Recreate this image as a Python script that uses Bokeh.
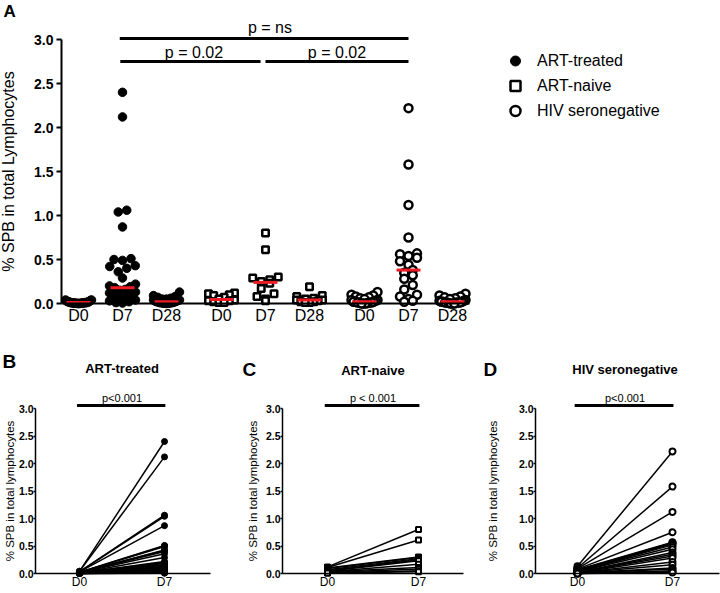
import numpy as np
from bokeh.plotting import figure
from bokeh.models import (Legend, LegendItem, FixedTicker, Range1d,
                          NumeralTickFormatter, ColumnDataSource)
from bokeh.layouts import column, row
from bokeh.embed import file_html
from bokeh.resources import INLINE
from bokeh.core.properties import value

# ------------------------------------------------------------------ data
groups = ["ART-treated", "ART-naive", "HIV seronegative"]
days = ["D0", "D7", "D28"]
paired_days = ["D0", "D7"]
panel_letters = ["A", "B", "C", "D"]
y_ticks = [0.0, 0.5, 1.0, 1.5, 2.0, 2.5, 3.0]
y_label_a = "% SPB in total Lymphocytes"
y_label_paired = "% SPB in total lymphocytes"
p_values_a = ["p = ns", "p = 0.02", "p = 0.02"]
p_values_paired = ["p<0.001", "p < 0.001", "p<0.001"]

treated_d0 = [0.04, 0.04, 0.035, 0.03, 0.03, 0.025, 0.02, 0.02, 0.02, 0.02, 0.015,
              0.015, 0.01, 0.01, 0.01, 0.01, 0.01, 0.01, 0.01, 0.008, 0.006, 0.005,
              0.005, 0.004, 0.003, 0.003, 0.002, 0.002, 0.001, 0.001, 0.0, 0.0, 0.0]
treated_d7 = [2.40, 2.12, 1.06, 1.04, 0.87, 0.51, 0.50, 0.49, 0.43, 0.42, 0.40,
              0.36, 0.29, 0.22, 0.20, 0.19, 0.18, 0.16, 0.15, 0.13, 0.12, 0.11,
              0.10, 0.09, 0.08, 0.07, 0.06, 0.05, 0.04, 0.03, 0.02, 0.01, 0.005]
treated_d28 = [0.13, 0.09, 0.08, 0.07, 0.06, 0.05, 0.05, 0.04, 0.04, 0.04, 0.03,
               0.03, 0.03, 0.03, 0.02, 0.02, 0.02, 0.02, 0.02, 0.015, 0.01, 0.01,
               0.01, 0.01, 0.01, 0.008, 0.006, 0.005, 0.004, 0.003, 0.002, 0.001, 0.0]

naive_d0 = [0.12, 0.11, 0.10, 0.09, 0.07, 0.05, 0.04, 0.03, 0.03, 0.02, 0.01, 0.01]
naive_d7 = [0.80, 0.61, 0.30, 0.29, 0.27, 0.25, 0.23, 0.17, 0.11, 0.08, 0.05, 0.03]
naive_d28 = [0.19, 0.09, 0.08, 0.06, 0.05, 0.04, 0.04, 0.03, 0.02, 0.02, 0.01, 0.01]

hivneg_d0 = [0.13, 0.10, 0.09, 0.08, 0.07, 0.06, 0.05, 0.04, 0.04, 0.03, 0.02,
             0.02, 0.02, 0.01, 0.01, 0.01, 0.01, 0.005, 0.0, 0.0, 0.0]
hivneg_d7 = [2.22, 1.58, 1.12, 0.75, 0.57, 0.56, 0.54, 0.52, 0.48, 0.44, 0.38,
             0.35, 0.32, 0.28, 0.21, 0.16, 0.10, 0.08, 0.05, 0.03, 0.02]
hivneg_d28 = [0.11, 0.09, 0.08, 0.07, 0.06, 0.05, 0.04, 0.03, 0.03, 0.02, 0.02,
              0.02, 0.01, 0.01, 0.01, 0.01, 0.01, 0.005, 0.0, 0.0, 0.0]

group_data = [[treated_d0, treated_d7, treated_d28],
              [naive_d0, naive_d7, naive_d28],
              [hivneg_d0, hivneg_d7, hivneg_d28]]

# ------------------------------------------------------------------ styles
SANS = "Liberation Sans"
RED = "#ec1c24"
BLACK = "#000000"

styles_a = [dict(marker="circle", fill_color=BLACK, line_color=BLACK, line_width=1.0, size=8.5),
            dict(marker="square", fill_color="white", line_color=BLACK, line_width=2.5, size=6.5),
            dict(marker="circle", fill_color="white", line_color=BLACK, line_width=2.5, size=8.0)]
styles_paired = [dict(marker="circle", fill_color=BLACK, line_color=BLACK, line_width=1.0, size=6),
                 dict(marker="square", fill_color="white", line_color=BLACK, line_width=2.0, size=5),
                 dict(marker="circle", fill_color="white", line_color=BLACK, line_width=2.0, size=6)]


def swarm(vals, center, ppu_x, ppu_y, d, maxw):
    """Scatter-dot-plot layout: points in the same vertical bin spread sideways."""
    vals = np.asarray(vals, dtype=float)
    order = np.argsort(vals, kind="stable")
    bins = np.round(vals * ppu_y / d).astype(int)
    xs = np.full(len(vals), float(center))
    for b in np.unique(bins):
        idx = [i for i in order if bins[i] == b]
        k = len(idx)
        if k < 2:
            continue
        step = min(d, maxw / (k - 1))
        offs = (np.arange(k) - (k - 1) / 2.0) * step
        sorted_offs = sorted(offs, key=lambda o: (abs(o), o))
        for i, o in zip(idx, sorted_offs):
            xs[i] = center + o / ppu_x
    return xs


def make_fig(w, h, x0, x1, y0, y1):
    p = figure(width=w, height=h, title=None, x_range=Range1d(x0, x1), y_range=Range1d(y0, y1),
               output_backend="svg", toolbar_location=None,
               min_border=0, min_border_left=0, min_border_right=0,
               min_border_top=0, min_border_bottom=0)
    p.xgrid.visible = False
    p.ygrid.visible = False
    p.outline_line_color = None
    p.background_fill_color = "white"
    p.border_fill_color = "white"
    return p


def style_axes(p, y_axis_x, x_bounds, lw, tick_out, tick_px, tick_standoff,
               label_px, label_standoff, x_px, x_standoff):
    xa, ya = p.xaxis[0], p.yaxis[0]
    for ax in (xa, ya):
        ax.axis_line_width = lw
        ax.axis_line_color = BLACK
        ax.major_tick_line_width = lw
        ax.major_tick_line_color = BLACK
        ax.major_tick_in = 0
        ax.minor_tick_line_color = None
        ax.major_label_text_color = BLACK
        ax.major_label_text_font = SANS
        ax.axis_label_text_color = BLACK
        ax.axis_label_text_font = SANS
    ya.fixed_location = y_axis_x
    ya.ticker = FixedTicker(ticks=y_ticks)
    ya.formatter = NumeralTickFormatter(format="0.0")
    ya.bounds = (0, 3)
    ya.major_tick_out = tick_out
    ya.major_label_standoff = tick_standoff
    ya.major_label_text_font_style = "bold"
    ya.major_label_text_font_size = f"{tick_px}px"
    ya.axis_label_text_font_style = "normal"
    ya.axis_label_text_font_size = f"{label_px}px"
    ya.axis_label_standoff = label_standoff
    xa.fixed_location = 0
    xa.bounds = x_bounds
    xa.major_tick_out = 0
    xa.major_tick_line_color = None
    xa.major_label_standoff = x_standoff
    xa.major_label_text_font_style = "normal"
    xa.major_label_text_font_size = f"{x_px}px"


# ------------------------------------------------------------------ panel A
A_W, A_H = 720, 340
AX_PPU, AY_PPU = 11.0, 88.0          # pixels per data unit
A_D0_PX, A_ZERO_PX = 78, 303          # where the first category / y = 0 sit
cat_pos = [4, 8, 12, 17, 21, 25, 30, 34, 38]


def ax_px(px):
    return cat_pos[0] + (px - A_D0_PX) / AX_PPU


def ay_px(py):
    return (A_ZERO_PX - py) / AY_PPU


pA = make_fig(A_W, A_H, ax_px(0), ax_px(A_W), ay_px(A_H), ay_px(0))
style_axes(pA, ax_px(61), (ax_px(61), ax_px(469)), 2, 5, 14, 3, 16, 14, 16, 3)
pA.yaxis[0].axis_label = y_label_a
pA.xaxis[0].ticker = FixedTicker(ticks=cat_pos)
pA.xaxis[0].major_label_overrides = {cat_pos[i]: days[i % 3] for i in range(9)}

group_renderers = []
med_x0, med_x1, med_y = [], [], []
for gi, series in enumerate(group_data):
    xs_all, ys_all = [], []
    for di, vals in enumerate(series):
        pos = cat_pos[gi * 3 + di]
        xs_all.extend(swarm(vals, pos, AX_PPU, AY_PPU, 8.5, 26))
        ys_all.extend(vals)
        m = float(np.median(vals))
        med_x0.append(pos - 12 / AX_PPU)
        med_x1.append(pos + 12 / AX_PPU)
        med_y.append(m)
    src = ColumnDataSource(dict(x=xs_all, y=ys_all))
    r = pA.scatter("x", "y", source=src, **styles_a[gi])
    group_renderers.append(r)

pA.segment(x0=med_x0, y0=med_y, x1=med_x1, y1=med_y, line_color=RED, line_width=3)

# significance brackets
d7a, d7b, d7c = cat_pos[1], cat_pos[4], cat_pos[7]
br_x0 = [d7a - 0.25, d7a - 0.2, d7b + 0.0]
br_x1 = [d7c, d7b - 0.45, d7c]
br_y = [ay_px(38), ay_px(61), ay_px(61)]
pA.segment(x0=br_x0, y0=br_y, x1=br_x1, y1=br_y, line_color=BLACK, line_width=3)
pA.text(x=[(d7a + d7c) / 2 + 0.4, (d7a + d7b) / 2, (d7b + d7c) / 2],
        y=[ay_px(27), ay_px(52), ay_px(52)], text=p_values_a,
        text_font=value(SANS), text_font_size="16px", text_color=BLACK,
        text_align="center", text_baseline="middle")

legend = Legend(items=[LegendItem(label=g, renderers=[r]) for g, r in zip(groups, group_renderers)],
                location=(499, A_H - 123), orientation="vertical",
                glyph_width=32, glyph_height=25, label_height=25, spacing=0,
                padding=0, margin=0, label_standoff=6,
                border_line_color=None, background_fill_alpha=0,
                label_text_font=SANS, label_text_font_size="16px", label_text_color=BLACK)
pA.add_layout(legend)

pA.text(x=[ax_px(3)], y=[ay_px(11)], text=[panel_letters[0]], text_font=value(SANS),
        text_font_size="17px", text_font_style="bold", text_color=BLACK,
        text_align="left", text_baseline="middle")

# ------------------------------------------------------------------ panels B-D
L_H = 253
L_TOP = A_H                 # page y of the lower row
LY_PPU = 55.0
L_ZERO_PX = 573             # page y of value 0
paired_pos = [0, 1]

lower_specs = [
    dict(left=0, width=240, d0=79, d7=164, axis=35, end=210, letter=(2, 361), title_y=368,
         als=0),
    dict(left=240, width=240, d0=327, d7=418, axis=282, end=463, letter=(242, 369), title_y=370,
         als=4),
    dict(left=480, width=240, d0=577, d7=672, axis=535, end=719, letter=(483, 369), title_y=369,
         als=17),
]

lower_figs = []
for gi, s in enumerate(lower_specs):
    ppu = (s["d7"] - s["d0"]) / (paired_pos[1] - paired_pos[0])

    def bx(px, s=s, ppu=ppu):
        return paired_pos[0] + (px - s["d0"]) / ppu

    def by(py):
        return (L_ZERO_PX - py) / LY_PPU

    p = make_fig(s["width"], L_H, bx(s["left"]), bx(s["left"] + s["width"]),
                 by(L_TOP + L_H), by(L_TOP))
    style_axes(p, bx(s["axis"]), (bx(s["axis"]), bx(s["end"])), 1.5, 2, 10.5, 0,
               11.5, s["als"], 12, 1)
    p.yaxis[0].axis_label = y_label_paired
    p.xaxis[0].ticker = FixedTicker(ticks=paired_pos)
    p.xaxis[0].major_label_overrides = {paired_pos[i]: paired_days[i] for i in range(2)}

    d0 = group_data[gi][0]
    d7 = group_data[gi][1]
    n = len(d0)
    src = ColumnDataSource(dict(x0=[paired_pos[0]] * n, y0=d0, x1=[paired_pos[1]] * n, y1=d7))
    p.segment(x0="x0", y0="y0", x1="x1", y1="y1", source=src, line_color=BLACK, line_width=1.5)
    p.scatter(x=[paired_pos[0]] * n + [paired_pos[1]] * n, y=list(d0) + list(d7),
              **styles_paired[gi])

    p.segment(x0=[paired_pos[0] - 0.03], y0=[by(405)], x1=[paired_pos[1] + 0.01], y1=[by(405)],
              line_color=BLACK, line_width=3)
    mid = (paired_pos[0] + paired_pos[1]) / 2
    p.text(x=[mid], y=[by(397)], text=[p_values_paired[gi]], text_font=value(SANS),
           text_font_size="11px", text_color=BLACK, text_align="center", text_baseline="middle")
    p.text(x=[mid], y=[by(s["title_y"])], text=[groups[gi]], text_font=value(SANS),
           text_font_style="bold", text_font_size="13px", text_color=BLACK,
           text_align="center", text_baseline="middle")
    p.text(x=[bx(s["letter"][0])], y=[by(s["letter"][1])], text=[panel_letters[gi + 1]],
           text_font=value(SANS), text_font_size="19px", text_font_style="bold",
           text_color=BLACK, text_align="left", text_baseline="middle")
    lower_figs.append(p)

layout = column(pA, row(*lower_figs, spacing=0), spacing=0)
open("out.html", "w").write(file_html(layout, INLINE))
